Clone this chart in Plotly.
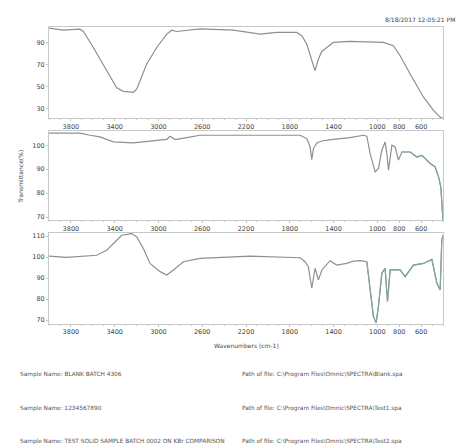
import plotly.graph_objects as go

# ---------------- data ----------------
top_wn = [4000, 3869, 3717, 3686, 3595, 3473, 3381, 3321, 3229, 3198, 3107, 3016, 2924, 2878, 2833,
          2620, 2315, 2071, 1919, 1736, 1690, 1645, 1599, 1569, 1538, 1507, 1462, 1401, 1249, 944,
          853, 792, 700, 578, 487, 426, 400]
top_t = [103.4, 101.5, 102.4, 100.3, 85.7, 64.5, 48.8, 45.7, 44.8, 47.9, 70.6, 85.7, 97.9, 101.5, 100.3,
         102.7, 101.5, 97.9, 99.4, 99.4, 96.4, 88.8, 73.6, 64.5, 75.2, 82.1, 85.7, 90.3, 91.2, 90.3,
         87.3, 78.2, 61.5, 40.3, 28.2, 22.1, 21.0]

mid_wn = [4000, 3717, 3625, 3534, 3412, 3229, 3077, 2924, 2894, 2848, 2741, 2620, 2163, 1706, 1645,
          1614, 1599, 1584, 1553, 1507, 1401, 1249, 1127, 1096, 1066, 1020, 990, 959, 929, 913,
          898, 867, 837, 807, 776, 700, 639, 593, 517, 472, 441, 420, 400]
mid_t = [105.1, 105.1, 104.2, 103.5, 101.4, 101.0, 101.7, 102.5, 103.8, 102.4, 103.2, 104.2, 104.2, 104.2, 102.8,
         99.3, 94.0, 98.6, 101.0, 101.8, 102.5, 103.2, 104.2, 103.8, 96.5, 88.9, 90.3, 97.9, 101.4, 96.5,
         89.6, 100.0, 99.3, 93.8, 97.2, 97.2, 95.1, 95.8, 92.4, 91.0, 86.8, 82.6, 68.8]

bot_wn = [4000, 3839, 3564, 3473, 3397, 3336, 3244, 3198, 3138, 3077, 2985, 2924, 2863, 2772, 2620,
          2163, 1706, 1660, 1630, 1599, 1569, 1538, 1507, 1432, 1371, 1280, 1218, 1157, 1096, 1066,
          1036, 1011, 990, 959, 929, 907, 883, 792, 746, 670, 578, 502, 487, 456, 426, 411, 400]
bot_t = [100.5, 99.9, 100.9, 103.3, 107.2, 110.4, 111.2, 109.6, 104.1, 97.0, 93.1, 91.5, 93.9, 97.8, 99.4,
         100.5, 99.7, 97.8, 95.4, 85.2, 94.7, 89.2, 93.9, 98.3, 96.2, 97.0, 98.1, 98.3, 97.8, 86.0,
         71.8, 68.7, 76.6, 92.3, 94.7, 78.9, 93.9, 93.9, 90.7, 96.2, 97.0, 98.9, 95.4, 87.6, 84.4, 108.0, 110.4]

x_ticks = [3800, 3400, 3000, 2600, 2200, 1800, 1400, 1000, 800, 600]
top_yticks = [90, 70, 50, 30]
mid_yticks = [100, 90, 80, 70]
bot_yticks = [110, 100, 90, 80, 70]

stamp = "8/18/2017 12:05:21 PM"
info_left = ["Sample Name: BLANK BATCH 4306",
             "Sample Name: 1234567890",
             "Sample Name: TEST SOLID SAMPLE BATCH 0002 ON KBr COMPARISON"]
info_right = ["Path of file: C:\\Program Files\\Omnic\\SPECTRA\\Blank.spa",
              "Path of file: C:\\Program Files\\Omnic\\SPECTRA\\Test1.spa",
              "Path of file: C:\\Program Files\\Omnic\\SPECTRA\\Test2.spa"]

# ---------------- figure ----------------
W, H = 459, 446
def px_y(py):
    return 1 - py / H

GRAY = "#8f8f8f"
TEAL = "#7fa79a"
TXT = "#444444"
FRAME = "#c8c8c8"

fig = go.Figure()
fig.add_trace(go.Scatter(x=top_wn, y=top_t, mode="lines", line=dict(color=GRAY, width=1.2),
                         xaxis="x", yaxis="y", showlegend=False))
fig.add_trace(go.Scatter(x=mid_wn, y=mid_t, mode="lines", line=dict(color=GRAY, width=1.2),
                         xaxis="x2", yaxis="y2", showlegend=False))
mw = [w for w in mid_wn if w <= 800]
mt = [t for w, t in zip(mid_wn, mid_t) if w <= 800]
fig.add_trace(go.Scatter(x=mw, y=mt, mode="lines", line=dict(color=TEAL, width=1.2),
                         xaxis="x2", yaxis="y2", showlegend=False))
fig.add_trace(go.Scatter(x=bot_wn, y=bot_t, mode="lines", line=dict(color=GRAY, width=1.2),
                         xaxis="x3", yaxis="y3", showlegend=False))
bw = [w for w in bot_wn if w <= 1100]
bt = [t for w, t in zip(bot_wn, bot_t) if w <= 1100]
fig.add_trace(go.Scatter(x=bw, y=bt, mode="lines", line=dict(color=TEAL, width=1.2),
                         xaxis="x3", yaxis="y3", showlegend=False))

xdom = [49 / W, 443 / W]
xcommon = dict(range=[4000, 400], domain=xdom, tickvals=x_ticks, ticks="outside", ticklen=2,
               tickcolor=FRAME, showgrid=False, zeroline=False, showline=True, mirror=True,
               linecolor=FRAME, linewidth=1, tickfont=dict(size=6.5, color=TXT, family="DejaVu Sans"),
               minor=dict(ticks="outside", ticklen=1, dtick=100, tickcolor=FRAME))
ycommon = dict(ticks="outside", ticklen=2, tickcolor=FRAME, showgrid=False, zeroline=False,
               showline=True, mirror=True, linecolor=FRAME, linewidth=1,
               tickfont=dict(size=6.5, color=TXT, family="DejaVu Sans"))

fig.update_layout(
    width=W, height=H, margin=dict(l=0, r=0, t=0, b=0),
    paper_bgcolor="white", plot_bgcolor="white",
    xaxis=dict(anchor="y", **xcommon),
    xaxis2=dict(anchor="y2", **xcommon),
    xaxis3=dict(anchor="y3", **xcommon),
    yaxis=dict(anchor="x", domain=[px_y(118), px_y(26)], range=[20.9, 104.5], tickvals=top_yticks, **ycommon),
    yaxis2=dict(anchor="x2", domain=[px_y(220), px_y(131)], range=[68.75, 105.8], tickvals=mid_yticks, **ycommon),
    yaxis3=dict(anchor="x3", domain=[px_y(324), px_y(233)], range=[68.4, 111.5], tickvals=bot_yticks, **ycommon),
    font=dict(family="DejaVu Sans", color=TXT),
)

ann = []
ann.append(dict(text=stamp, x=383 / W, y=px_y(19), xref="paper", yref="paper", xanchor="left",
                yanchor="middle", showarrow=False, font=dict(size=6, color="#444")))
ann.append(dict(text="Transmittance(%)", x=15 / W, y=px_y(177), xref="paper", yref="paper",
                textangle=-90, showarrow=False, font=dict(size=6, color="#444")))
ann.append(dict(text="Wavenumbers (cm-1)", x=246 / W, y=px_y(341), xref="paper", yref="paper",
                yanchor="top", showarrow=False, font=dict(size=6, color="#444")))
rows_y = [375, 409, 442]
for ly, lt, rt in zip(rows_y, info_left, info_right):
    ann.append(dict(text=lt, x=18 / W, y=px_y(ly), xref="paper", yref="paper", xanchor="left",
                    yanchor="middle", showarrow=False, font=dict(size=5.8, color="#555")))
    ann.append(dict(text=rt, x=240 / W, y=px_y(ly), xref="paper", yref="paper", xanchor="left",
                    yanchor="middle", showarrow=False, font=dict(size=5.8, color="#555")))
fig.update_layout(annotations=ann)

fig.write_html("out.html")
